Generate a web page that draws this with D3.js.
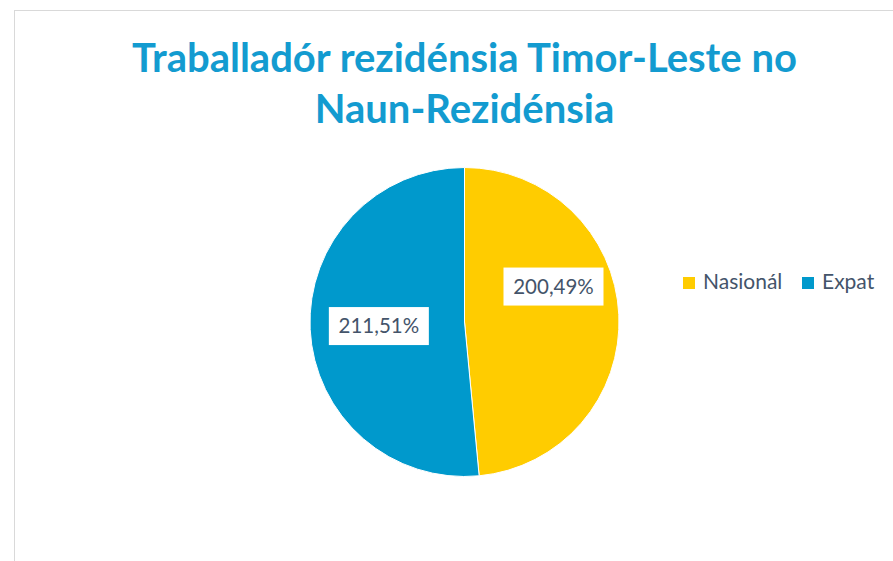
<!DOCTYPE html>
<html>
<head>
<meta charset="utf-8">
<script src="https://cdn.jsdelivr.net/npm/d3@7"></script>
<style>
  body { margin: 0; background: #fff; }
  svg { display: block; }
</style>
</head>
<body>
<svg width="893" height="561"></svg>
<script>
var categories = ["Nasionál", "Expat"];
var values = [48.49, 51.51];
var labels = ["200,49%", "211,51%"];
var colors = ["#FFCC00", "#0099CC"];
var titleLines = ["Traballadór rezidénsia Timor-Leste no", "Naun-Rezidénsia"];

var svg = d3.select("svg"),
    width = +svg.attr("width"),
    height = +svg.attr("height"),
    cx = 464.5, cy = 322, radius = 154.5;

// chart frame
svg.append("rect")
    .attr("x", 14.5).attr("y", 10.5)
    .attr("width", width + 20).attr("height", height + 20)
    .attr("fill", "#fff")
    .attr("stroke", "#d9d9d9");

svg.append("g").selectAll("text")
    .data(titleLines)
    .enter().append("text")
    .attr("x", cx)
    .attr("y", function (d, i) { return 72 + i * 51; })
    .attr("text-anchor", "middle")
    .style("font-family", "Lato, sans-serif")
    .style("font-weight", "bold")
    .style("font-size", "40px")
    .style("fill", "#139BD0")
    .text(function (d) { return d; });

var pie = d3.pie().sort(null).value(function (d) { return d; });
var arc = d3.arc().innerRadius(0).outerRadius(radius);
var arcs = pie(values);

var g = svg.append("g").attr("transform", "translate(" + cx + "," + cy + ")");

g.selectAll("path")
    .data(arcs)
    .enter().append("path")
    .attr("d", arc)
    .attr("fill", function (d, i) { return colors[i]; })
    .attr("stroke", "#fff")
    .attr("stroke-width", 1);

// excel "best fit" label placement: angle nudge (deg) and radius factor
var labelShift = [-19, 0];
var labelRadius = [0.62, 0.555];

var lab = g.selectAll("g.lab")
    .data(arcs)
    .enter().append("g")
    .attr("class", "lab")
    .attr("transform", function (d, i) {
        var a = (d.startAngle + d.endAngle) / 2 + labelShift[i] * Math.PI / 180;
        var r = radius * labelRadius[i];
        return "translate(" + (Math.sin(a) * r) + "," + (-Math.cos(a) * r) + ")";
    });

lab.append("rect")
    .attr("x", -50).attr("y", -19)
    .attr("width", 100).attr("height", 38)
    .attr("fill", "#fff");

lab.append("text")
    .attr("text-anchor", "middle")
    .attr("dy", "0.35em")
    .style("font-family", "Lato, sans-serif")
    .style("font-size", "20.5px")
    .style("fill", "#44546A")
    .text(function (d, i) { return labels[i]; });

// legend
var legendX = [683, 802];
var leg = svg.append("g").selectAll("g")
    .data(categories)
    .enter().append("g")
    .attr("transform", function (d, i) { return "translate(" + legendX[i] + ",277)"; });

leg.append("rect")
    .attr("width", 12).attr("height", 12)
    .attr("fill", function (d, i) { return colors[i]; });

leg.append("text")
    .attr("x", 20).attr("y", 11.5)
    .style("font-family", "Lato, sans-serif")
    .style("font-size", "21px")
    .style("fill", "#44546A")
    .text(function (d) { return d; });
</script>
</body>
</html>
